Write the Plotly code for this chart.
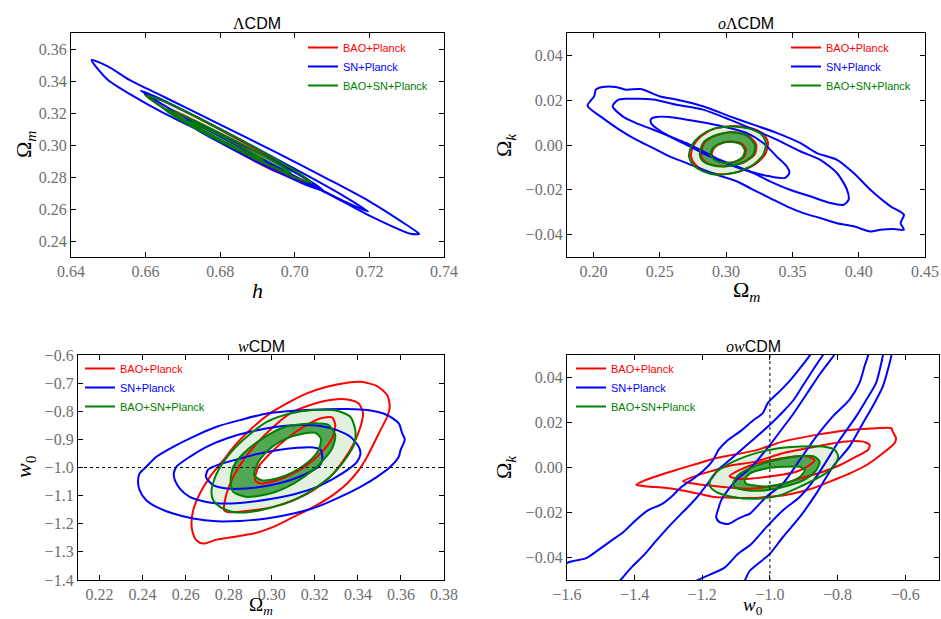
import plotly.graph_objects as go

# ---------------- colours ----------------
RED = "#ff0000"
BLUE = "#0000ff"
GREEN = "#008000"
LIGHT_GREEN = "#e2f1de"
DARK_GREEN = "#52a852"

SERIES_NAMES = ["BAO+Planck", "SN+Planck", "BAO+SN+Planck"]
PANEL_TITLES = ["ΛCDM", "<i>o</i>ΛCDM", "<i>w</i>CDM", "<i>ow</i>CDM"]

# ---------------- panel 1: LCDM (x = h, y = Omega_m) ----------------
LCDM_X_TICKS = [0.64, 0.66, 0.68, 0.70, 0.72, 0.74]
LCDM_Y_TICKS = [0.24, 0.26, 0.28, 0.30, 0.32, 0.34, 0.36]

LCDM_BAO_OUTER = [(0.6598,0.3316),(0.6643,0.3279),(0.6712,0.3202),(0.6825,0.3064),(0.6939,0.2917),(0.7007,0.2822),(0.7052,0.2745),(0.7007,0.2782),(0.6939,0.2859),(0.6825,0.2996),(0.6712,0.3144),(0.6643,0.3239)]
LCDM_BAO_MID = [(0.6663,0.3222),(0.6694,0.3195),(0.6741,0.3141),(0.6819,0.3042),(0.6896,0.2936),(0.6943,0.2868),(0.6974,0.2813),(0.6943,0.2840),(0.6896,0.2894),(0.6819,0.2994),(0.6741,0.3099),(0.6694,0.3167)]
LCDM_BAO_IN = [(0.6725,0.3140),(0.6744,0.3123),(0.6772,0.3091),(0.6818,0.3034),(0.6865,0.2974),(0.6892,0.2937),(0.6911,0.2906),(0.6892,0.2923),(0.6865,0.2954),(0.6818,0.3012),(0.6772,0.3071),(0.6744,0.3109)]

LCDM_SN_OUTER = [(0.6455,0.3532),(0.6500,0.3490),(0.6558,0.3405),(0.6650,0.3300),(0.6800,0.3127),(0.6950,0.2954),(0.7094,0.2781),(0.7200,0.2648),(0.7300,0.2500),(0.7334,0.2444),(0.7310,0.2445),(0.7200,0.2558),(0.7094,0.2690),(0.6950,0.2855),(0.6800,0.3028),(0.6650,0.3198),(0.6558,0.3318),(0.6500,0.3405),(0.6470,0.3480)]
LCDM_SN_MID = [(0.6587,0.3340),(0.6648,0.3279),(0.6740,0.3172),(0.6892,0.2986),(0.7045,0.2794),(0.7136,0.2674),(0.7197,0.2583),(0.7136,0.2644),(0.7045,0.2750),(0.6892,0.2936),(0.6740,0.3128),(0.6648,0.3249)]
LCDM_SN_IN = [(0.6703,0.3155),(0.6740,0.3129),(0.6796,0.3071),(0.6889,0.2966),(0.6982,0.2853),(0.7038,0.2779),(0.7075,0.2717),(0.7038,0.2743),(0.6982,0.2801),(0.6889,0.2906),(0.6796,0.3019),(0.6740,0.3093)]

LCDM_ALL_OUTER = [(0.6600,0.3310),(0.66445,0.3277),(0.67113,0.3204),(0.68225,0.3072),(0.69338,0.2931),(0.70005,0.2840),(0.7045,0.2765),(0.70005,0.2798),(0.69338,0.2871),(0.68225,0.3002),(0.67113,0.3144),(0.66445,0.3235)]
LCDM_ALL_MID = [(0.6650,0.3225),(0.6684,0.3201),(0.6735,0.3148),(0.6820,0.3051),(0.6905,0.2948),(0.6956,0.2881),(0.6990,0.2825),(0.6956,0.2849),(0.6905,0.2902),(0.6820,0.2999),(0.6735,0.3102),(0.6684,0.3169)]
LCDM_ALL_IN = [(0.6715,0.3150),(0.6735,0.3133),(0.6765,0.3099),(0.6815,0.3040),(0.6865,0.2976),(0.6895,0.2937),(0.6915,0.2905),(0.6895,0.2923),(0.6865,0.2956),(0.6815,0.3016),(0.6765,0.3079),(0.6735,0.3119)]

# ---------------- panel 2: oLCDM (x = Omega_m, y = Omega_k) ----------------
OLCDM_X_TICKS = [0.20, 0.25, 0.30, 0.35, 0.40, 0.45]
OLCDM_Y_TICKS = [-0.04, -0.02, 0.00, 0.02, 0.04]

OLCDM_BAO_OUTER = [(0.2735,-0.0050),(0.2752,-0.0004),(0.2816,0.0041),(0.2917,0.0074),(0.3068,0.0085),(0.3194,0.0074),(0.3283,0.0048),(0.3316,0.0011),(0.3295,-0.0041),(0.3220,-0.0086),(0.3093,-0.0120),(0.2942,-0.0131),(0.2841,-0.0116),(0.2765,-0.0086)]
OLCDM_BAO_MID = [(0.2811,-0.0042),(0.2836,0.0010),(0.2912,0.0040),(0.3038,0.0058),(0.3164,0.0043),(0.3227,0.0002),(0.3215,-0.0042),(0.3139,-0.0076),(0.3013,-0.0094),(0.2912,-0.0091),(0.2836,-0.0072)]
OLCDM_BAO_IN = [(0.2891,-0.0042),(0.2912,-0.0012),(0.2975,0.0010),(0.3063,0.0014),(0.3126,0.0002),(0.3151,-0.0023),(0.3134,-0.0053),(0.3076,-0.0073),(0.3000,-0.0079),(0.2932,-0.0069)]

OLCDM_SN_OUTER = [(0.1955,0.0176),(0.2005,0.0218),(0.2018,0.0247),(0.2068,0.0259),(0.2169,0.0259),(0.2245,0.0247),(0.2359,0.0250),(0.2497,0.0218),(0.2624,0.0203),(0.2826,0.0173),(0.3028,0.0128),(0.3205,0.0091),(0.3381,0.0054),(0.3558,0.0009),(0.3684,-0.0036),(0.3836,-0.0066),(0.3962,-0.0125),(0.4088,-0.0200),(0.4240,-0.0274),(0.4341,-0.0311),(0.4316,-0.0349),(0.4341,-0.0378),(0.4265,-0.0375),(0.4164,-0.0378),(0.4088,-0.0386),(0.3962,-0.0363),(0.3836,-0.0349),(0.3710,-0.0326),(0.3583,-0.0304),(0.3457,-0.0274),(0.3331,-0.0237),(0.3205,-0.0200),(0.3078,-0.0162),(0.2952,-0.0137),(0.2826,-0.0110),(0.2699,-0.0080),(0.2573,-0.0051),(0.2447,-0.0013),(0.2321,0.0024),(0.2194,0.0069),(0.2068,0.0121)]
OLCDM_SN_MID = [(0.2144,0.0173),(0.2182,0.0200),(0.2245,0.0206),(0.2447,0.0203),(0.2624,0.0180),(0.2826,0.0158),(0.3028,0.0113),(0.3205,0.0069),(0.3381,0.0024),(0.3558,-0.0028),(0.3710,-0.0066),(0.3836,-0.0125),(0.3912,-0.0200),(0.3924,-0.0244),(0.3886,-0.0267),(0.3785,-0.0259),(0.3634,-0.0229),(0.3482,-0.0200),(0.3331,-0.0162),(0.3205,-0.0125),(0.3078,-0.0095),(0.2952,-0.0066),(0.2826,-0.0028),(0.2699,0.0009),(0.2573,0.0039),(0.2447,0.0069),(0.2321,0.0098),(0.2220,0.0128)]
OLCDM_SN_IN = [(0.2434,0.0116),(0.2472,0.0125),(0.2573,0.0125),(0.2775,0.0106),(0.2977,0.0083),(0.3154,0.0054),(0.3280,0.0009),(0.3381,-0.0051),(0.3457,-0.0095),(0.3477,-0.0125),(0.3444,-0.0147),(0.3331,-0.0140),(0.3179,-0.0118),(0.3028,-0.0088),(0.2876,-0.0051),(0.2725,-0.0006),(0.2573,0.0039),(0.2472,0.0076),(0.2434,0.0098)]

OLCDM_ALL_OUTER = [(0.2720,-0.0051),(0.2737,-0.0006),(0.2801,0.0039),(0.2902,0.0072),(0.3053,0.0083),(0.3179,0.0072),(0.3268,0.0046),(0.3301,0.0009),(0.3280,-0.0043),(0.3205,-0.0088),(0.3078,-0.0122),(0.2927,-0.0133),(0.2826,-0.0118),(0.2750,-0.0088)]
OLCDM_ALL_MID = [(0.2801,-0.0043),(0.2826,0.0009),(0.2902,0.0039),(0.3028,0.0057),(0.3154,0.0042),(0.3217,0.0001),(0.3205,-0.0043),(0.3129,-0.0077),(0.3003,-0.0095),(0.2902,-0.0092),(0.2826,-0.0073)]
OLCDM_ALL_IN = [(0.2881,-0.0043),(0.2902,-0.0013),(0.2965,0.0009),(0.3053,0.0013),(0.3116,0.0001),(0.3141,-0.0024),(0.3124,-0.0054),(0.3066,-0.0074),(0.2990,-0.0080),(0.2922,-0.0070)]

# ---------------- panel 3: wCDM (x = Omega_m, y = w0) ----------------
WCDM_X_TICKS = [0.22, 0.24, 0.26, 0.28, 0.30, 0.32, 0.34, 0.36, 0.38]
WCDM_Y_TICKS = [-1.4, -1.3, -1.2, -1.1, -1.0, -0.9, -0.8, -0.7, -0.6]
WCDM_REF_W0 = -1.0

WCDM_BAO_OUTER = [(0.2627,-1.1994),(0.2635,-1.1519),(0.2666,-1.0926),(0.2713,-1.0332),(0.2775,-0.9739),(0.2837,-0.9145),(0.2915,-0.8552),(0.2992,-0.8077),(0.3070,-0.7721),(0.3163,-0.7365),(0.3256,-0.7128),(0.3350,-0.6985),(0.3412,-0.6950),(0.3489,-0.7104),(0.3536,-0.7424),(0.3548,-0.7840),(0.3536,-0.8196),(0.3505,-0.8671),(0.3474,-0.9145),(0.3443,-0.9620),(0.3404,-1.0095),(0.3350,-1.0570),(0.3272,-1.1045),(0.3194,-1.1401),(0.3101,-1.1757),(0.3008,-1.2113),(0.2915,-1.2350),(0.2821,-1.2469),(0.2744,-1.2564),(0.2682,-1.2706),(0.2650,-1.2587),(0.2632,-1.2291)]
WCDM_BAO_MID = [(0.2778,-1.1519),(0.2790,-1.0926),(0.2821,-1.0332),(0.2868,-0.9739),(0.2930,-0.9145),(0.3008,-0.8552),(0.3085,-0.8077),(0.3179,-0.7780),(0.3272,-0.7602),(0.3350,-0.7579),(0.3404,-0.7721),(0.3424,-0.8077),(0.3412,-0.8552),(0.3381,-0.9145),(0.3334,-0.9739),(0.3272,-1.0332),(0.3194,-1.0807),(0.3101,-1.1163),(0.3008,-1.1401),(0.2915,-1.1519),(0.2837,-1.1579),(0.2790,-1.1579)]
WCDM_BAO_IN = [(0.2922,-1.0451),(0.2938,-0.9976),(0.2992,-0.9501),(0.3070,-0.8967),(0.3148,-0.8552),(0.3225,-0.8255),(0.3280,-0.8220),(0.3295,-0.8493),(0.3280,-0.8967),(0.3233,-0.9442),(0.3163,-0.9917),(0.3085,-1.0273),(0.3000,-1.0510),(0.2946,-1.0570)]

WCDM_SN_OUTER = [(0.2379,-1.0451),(0.2386,-1.0214),(0.2417,-0.9976),(0.2464,-0.9620),(0.2542,-0.9264),(0.2635,-0.8908),(0.2744,-0.8552),(0.2852,-0.8315),(0.2977,-0.8077),(0.3101,-0.7982),(0.3225,-0.7935),(0.3350,-0.7923),(0.3443,-0.7958),(0.3536,-0.8136),(0.3590,-0.8433),(0.3606,-0.8789),(0.3618,-0.9003),(0.3598,-0.9383),(0.3590,-0.9620),(0.3551,-0.9976),(0.3489,-1.0332),(0.3412,-1.0688),(0.3318,-1.1045),(0.3210,-1.1401),(0.3101,-1.1638),(0.2977,-1.1816),(0.2852,-1.1899),(0.2744,-1.1911),(0.2635,-1.1816),(0.2542,-1.1638),(0.2464,-1.1401),(0.2417,-1.1163),(0.2386,-1.0807)]
WCDM_SN_MID = [(0.2545,-1.0214),(0.2557,-0.9976),(0.2619,-0.9620),(0.2697,-0.9264),(0.2790,-0.8967),(0.2899,-0.8730),(0.3023,-0.8552),(0.3132,-0.8493),(0.3225,-0.8528),(0.3303,-0.8671),(0.3365,-0.8908),(0.3404,-0.9264),(0.3412,-0.9501),(0.3396,-0.9798),(0.3350,-1.0095),(0.3287,-1.0392),(0.3210,-1.0688),(0.3117,-1.0926),(0.3008,-1.1104),(0.2899,-1.1223),(0.2790,-1.1282),(0.2697,-1.1223),(0.2619,-1.1045),(0.2573,-1.0748),(0.2550,-1.0451)]
WCDM_SN_IN = [(0.2694,-1.0332),(0.2705,-1.0071),(0.2759,-0.9881),(0.2837,-0.9715),(0.2930,-0.9525),(0.3023,-0.9383),(0.3117,-0.9300),(0.3194,-0.9288),(0.3228,-0.9383),(0.3235,-0.9739),(0.3217,-0.9976),(0.3163,-1.0214),(0.3085,-1.0451),(0.2992,-1.0629),(0.2883,-1.0748),(0.2790,-1.0748),(0.2728,-1.0629)]

WCDM_ALL_OUTER = [(0.2720,-1.0807),(0.2744,-1.0214),(0.2806,-0.9501),(0.2884,-0.8908),(0.2977,-0.8374),(0.3085,-0.8077),(0.3194,-0.7958),(0.3303,-0.7982),(0.3365,-0.8196),(0.3388,-0.8671),(0.3384,-0.9145),(0.3350,-0.9620),(0.3287,-1.0214),(0.3210,-1.0688),(0.3117,-1.1104),(0.3008,-1.1401),(0.2899,-1.1579),(0.2821,-1.1579),(0.2759,-1.1401),(0.2728,-1.1163)]
WCDM_ALL_MID = [(0.2809,-1.0451),(0.2821,-0.9976),(0.2868,-0.9501),(0.2946,-0.9027),(0.3054,-0.8576),(0.3179,-0.8433),(0.3264,-0.8493),(0.3295,-0.8849),(0.3280,-0.9323),(0.3210,-0.9976),(0.3101,-1.0570),(0.2992,-1.0926),(0.2884,-1.1045),(0.2821,-1.0866)]
WCDM_ALL_IN = [(0.2918,-1.0273),(0.2938,-0.9798),(0.2992,-0.9323),(0.3070,-0.8967),(0.3148,-0.8789),(0.3202,-0.8766),(0.3228,-0.8967),(0.3217,-0.9383),(0.3171,-0.9798),(0.3101,-1.0154),(0.3023,-1.0392),(0.2953,-1.0451)]

# ---------------- panel 4: owCDM (x = w0, y = Omega_k) ----------------
OWCDM_X_TICKS = [-1.6, -1.4, -1.2, -1.0, -0.8, -0.6]
OWCDM_Y_TICKS = [-0.04, -0.02, 0.00, 0.02, 0.04]
OWCDM_REF_W0 = -1.0

OWCDM_BAO_OUTER = [(-1.395,-0.0077),(-1.370,-0.0057),(-1.311,-0.0027),(-1.262,-0.0004),(-1.213,0.0018),(-1.164,0.0040),(-1.114,0.0055),(-1.045,0.0075),(-0.962,0.0115),(-0.863,0.0145),(-0.765,0.0167),(-0.686,0.0175),(-0.641,0.0175),(-0.637,0.0160),(-0.627,0.0130),(-0.632,0.0107),(-0.666,0.0063),(-0.715,0.0010),(-0.765,-0.0027),(-0.814,-0.0057),(-0.863,-0.0087),(-0.912,-0.0109),(-0.962,-0.0124),(-1.011,-0.0131),(-1.060,-0.0136),(-1.114,-0.0134),(-1.164,-0.0131),(-1.213,-0.0116),(-1.262,-0.0101),(-1.311,-0.0090),(-1.361,-0.0084)]
OWCDM_BAO_MID = [(-1.257,-0.0062),(-1.213,-0.0034),(-1.164,-0.0012),(-1.114,0.0010),(-1.045,0.0025),(-0.962,0.0063),(-0.863,0.0093),(-0.784,0.0115),(-0.725,0.0115),(-0.705,0.0100),(-0.710,0.0078),(-0.745,0.0048),(-0.794,0.0010),(-0.843,-0.0019),(-0.912,-0.0049),(-0.962,-0.0072),(-1.011,-0.0087),(-1.060,-0.0094),(-1.114,-0.0090),(-1.164,-0.0082),(-1.213,-0.0074)]
OWCDM_BAO_IN = [(-1.119,-0.0038),(-1.060,0.0008),(-1.001,0.0031),(-0.942,0.0046),(-0.893,0.0050),(-0.868,0.0033),(-0.883,0.0010),(-0.922,-0.0019),(-0.981,-0.0036),(-1.060,-0.0050),(-1.095,-0.0050)]

# SN contours are open bands that run out of the frame
OWCDM_SN_OUTER_LEFT = [(-1.650,-0.0470),(-1.597,-0.0422),(-1.543,-0.0403),(-1.508,-0.0367),(-1.469,-0.0325),(-1.434,-0.0288),(-1.400,-0.0239),(-1.361,-0.0191),(-1.321,-0.0164),(-1.292,-0.0131),(-1.262,-0.0087),(-1.223,-0.0046),(-1.193,-0.0009),(-1.168,0.0033),(-1.152,0.0078),(-1.124,0.0122),(-1.085,0.0164),(-1.050,0.0209),(-1.021,0.0242),(-1.006,0.0287),(-0.971,0.0339),(-0.947,0.0376),(-0.922,0.0421),(-0.898,0.0466),(-0.883,0.0496),(-0.868,0.0530)]
OWCDM_SN_OUTER_RIGHT = [(-0.638,0.0525),(-0.641,0.0496),(-0.651,0.0436),(-0.666,0.0361),(-0.696,0.0272),(-0.725,0.0197),(-0.765,0.0093),(-0.814,0.0003),(-0.863,-0.0116),(-0.912,-0.0221),(-0.962,-0.0310),(-1.001,-0.0385),(-1.060,-0.0460),(-1.075,-0.0504),(-1.085,-0.0530)]
OWCDM_SN_MID_LEFT = [(-1.460,-0.0530),(-1.444,-0.0504),(-1.410,-0.0445),(-1.370,-0.0385),(-1.336,-0.0325),(-1.301,-0.0266),(-1.267,-0.0213),(-1.233,-0.0161),(-1.203,-0.0109),(-1.173,-0.0049),(-1.149,-0.0004),(-1.119,0.0033),(-1.085,0.0078),(-1.045,0.0130),(-1.000,0.0190),(-0.960,0.0250),(-0.930,0.0300),(-0.900,0.0370),(-0.870,0.0440),(-0.843,0.0500),(-0.830,0.0530)]
OWCDM_SN_MID_RIGHT = [(-0.662,0.0525),(-0.666,0.0496),(-0.686,0.0376),(-0.715,0.0301),(-0.745,0.0227),(-0.794,0.0122),(-0.863,-0.0042),(-0.912,-0.0131),(-0.962,-0.0191),(-1.011,-0.0266),(-1.055,-0.0340),(-1.095,-0.0385),(-1.134,-0.0445),(-1.218,-0.0504),(-1.235,-0.0530)]
OWCDM_SN_IN = [(-0.800,0.0530),(-0.810,0.0500),(-0.850,0.0420),(-0.890,0.0330),(-0.930,0.0240),(-0.960,0.0180),(-1.000,0.0100),(-1.045,0.0018),(-1.065,-0.0012),(-1.095,-0.0049),(-1.124,-0.0101),(-1.144,-0.0146),(-1.154,-0.0191),(-1.159,-0.0221),(-1.149,-0.0243),(-1.124,-0.0251),(-1.095,-0.0228),(-1.075,-0.0215),(-1.060,-0.0206),(-1.011,-0.0131),(-0.962,-0.0072),(-0.912,0.0033),(-0.863,0.0137),(-0.814,0.0227),(-0.765,0.0301),(-0.735,0.0376),(-0.720,0.0451),(-0.710,0.0496),(-0.706,0.0525)]

OWCDM_ALL_OUTER = [(-1.178,-0.0064),(-1.163,-0.0027),(-1.119,0.0018),(-1.060,0.0055),(-0.991,0.0081),(-0.912,0.0093),(-0.843,0.0093),(-0.808,0.0078),(-0.798,0.0048),(-0.808,0.0010),(-0.843,-0.0034),(-0.902,-0.0079),(-0.971,-0.0124),(-1.040,-0.0139),(-1.109,-0.0131),(-1.158,-0.0109),(-1.176,-0.0087)]
OWCDM_ALL_MID = [(-1.109,-0.0072),(-1.094,-0.0034),(-1.050,0.0003),(-0.981,0.0033),(-0.912,0.0051),(-0.868,0.0048),(-0.853,0.0025),(-0.863,-0.0012),(-0.892,-0.0049),(-0.942,-0.0079),(-1.011,-0.0101),(-1.070,-0.0101),(-1.104,-0.0087)]
OWCDM_ALL_IN = [(-1.075,-0.0057),(-1.060,-0.0027),(-1.011,-0.0004),(-0.962,0.0003),(-0.912,0.0003),(-0.897,-0.0012),(-0.912,-0.0042),(-0.952,-0.0069),(-1.011,-0.0084),(-1.050,-0.0079),(-1.070,-0.0072)]

# ---------------- layout geometry (paper fractions) ----------------
W, H = 941, 619

def px_x(p):
    return p / W

def px_y(p):
    return 1 - p / H

PANELS = [
    dict(xd=[px_x(71), px_x(444)], yd=[px_y(257), px_y(33)], xr=[0.64, 0.74], yr=[0.23, 0.37],
         xt=LCDM_X_TICKS, yt=LCDM_Y_TICKS, xf=".2f", yf=".2f"),
    dict(xd=[px_x(567), px_x(925)], yd=[px_y(257), px_y(33)], xr=[0.18, 0.45], yr=[-0.05, 0.05],
         xt=OLCDM_X_TICKS, yt=OLCDM_Y_TICKS, xf=".2f", yf=".2f"),
    dict(xd=[px_x(78), px_x(444)], yd=[px_y(580), px_y(355)], xr=[0.21, 0.38], yr=[-1.4, -0.6],
         xt=WCDM_X_TICKS, yt=WCDM_Y_TICKS, xf=".2f", yf=".1f"),
    dict(xd=[px_x(567), px_x(939)], yd=[px_y(580), px_y(355)], xr=[-1.6, -0.5], yr=[-0.05, 0.05],
         xt=OWCDM_X_TICKS, yt=OWCDM_Y_TICKS, xf=".1f", yf=".2f"),
]

fig = go.Figure()


def xy(pts, close=True):
    xs = [p[0] for p in pts]
    ys = [p[1] for p in pts]
    if close:
        xs.append(pts[0][0])
        ys.append(pts[0][1])
    return xs, ys


def add_fill(pts, color, ax):
    xs, ys = xy(pts)
    fig.add_trace(go.Scatter(x=xs, y=ys, mode="lines", fill="toself", fillcolor=color,
                             line=dict(width=0, shape="spline", smoothing=0.7),
                             xaxis="x" + ax, yaxis="y" + ax, showlegend=False, hoverinfo="skip"))


def add_line(pts, color, ax, close=True, legend=None, name=None):
    xs, ys = xy(pts, close)
    fig.add_trace(go.Scatter(x=xs, y=ys, mode="lines",
                             line=dict(color=color, width=2, shape="spline", smoothing=0.7),
                             xaxis="x" + ax, yaxis="y" + ax,
                             showlegend=legend is not None,
                             legend=legend if legend else "legend",
                             name=name if name else " ", hoverinfo="skip"))


def legend_name(text, color):
    return f"<span style='color:{color}'>{text}</span>"


def add_panel(ax, legend, bao, sn, sn_open, allc):
    add_fill(allc[0], LIGHT_GREEN, ax)
    add_fill(allc[1], DARK_GREEN, ax)
    add_fill(allc[2], "#ffffff", ax)
    for i, c in enumerate(bao):
        add_line(c, RED, ax, legend=legend if i == 0 else None,
                 name=legend_name(SERIES_NAMES[0], RED))
    for i, c in enumerate(sn):
        add_line(c, BLUE, ax, close=not sn_open, legend=legend if i == 0 else None,
                 name=legend_name(SERIES_NAMES[1], BLUE))
    for i, c in enumerate(allc):
        add_line(c, GREEN, ax, legend=legend if i == 0 else None,
                 name=legend_name(SERIES_NAMES[2], GREEN))


add_panel("", "legend",
          [LCDM_BAO_OUTER, LCDM_BAO_MID, LCDM_BAO_IN],
          [LCDM_SN_OUTER, LCDM_SN_MID, LCDM_SN_IN], False,
          [LCDM_ALL_OUTER, LCDM_ALL_MID, LCDM_ALL_IN])
add_panel("2", "legend2",
          [OLCDM_BAO_OUTER, OLCDM_BAO_MID, OLCDM_BAO_IN],
          [OLCDM_SN_OUTER, OLCDM_SN_MID, OLCDM_SN_IN], False,
          [OLCDM_ALL_OUTER, OLCDM_ALL_MID, OLCDM_ALL_IN])
add_panel("3", "legend3",
          [WCDM_BAO_OUTER, WCDM_BAO_MID, WCDM_BAO_IN],
          [WCDM_SN_OUTER, WCDM_SN_MID, WCDM_SN_IN], False,
          [WCDM_ALL_OUTER, WCDM_ALL_MID, WCDM_ALL_IN])
add_panel("4", "legend4",
          [OWCDM_BAO_OUTER, OWCDM_BAO_MID, OWCDM_BAO_IN],
          [OWCDM_SN_OUTER_LEFT, OWCDM_SN_OUTER_RIGHT, OWCDM_SN_MID_LEFT, OWCDM_SN_MID_RIGHT, OWCDM_SN_IN], True,
          [OWCDM_ALL_OUTER, OWCDM_ALL_MID, OWCDM_ALL_IN])

fig.add_trace(go.Scatter(x=[0.21, 0.38], y=[WCDM_REF_W0, WCDM_REF_W0], mode="lines",
                         line=dict(color="black", width=1, dash="dot"),
                         xaxis="x3", yaxis="y3", showlegend=False, hoverinfo="skip"))
fig.add_trace(go.Scatter(x=[OWCDM_REF_W0, OWCDM_REF_W0], y=[-0.05, 0.05], mode="lines",
                         line=dict(color="black", width=1, dash="dot"),
                         xaxis="x4", yaxis="y4", showlegend=False, hoverinfo="skip"))

SERIF = "Liberation Serif"
TICKFONT = dict(family=SERIF, size=16, color="#6e6e6e")
layout = dict(width=W, height=H, margin=dict(l=0, r=0, t=0, b=0, autoexpand=False),
              paper_bgcolor="white", plot_bgcolor="white", showlegend=True)

for i, p in enumerate(PANELS):
    s = "" if i == 0 else str(i + 1)
    common = dict(showline=True, linecolor="black", linewidth=1.3, mirror="allticks",
                  ticks="inside", ticklen=5, tickwidth=1, tickcolor="black",
                  showgrid=False, zeroline=False, tickfont=TICKFONT, automargin=False)
    layout["xaxis" + s] = dict(domain=p["xd"], range=p["xr"], tickvals=p["xt"],
                               tickformat=p["xf"], anchor="y" + s, **common)
    layout["yaxis" + s] = dict(domain=p["yd"], range=p["yr"], tickvals=p["yt"],
                               tickformat=p["yf"], anchor="x" + s, **common)

LEG = dict(font=dict(family="Liberation Sans", size=11), bgcolor="rgba(0,0,0,0)",
           itemwidth=30, xanchor="left", yanchor="top", tracegroupgap=0)
layout["legend"] = dict(x=px_x(303), y=px_y(33), **LEG)
layout["legend2"] = dict(x=px_x(786), y=px_y(33), **LEG)
layout["legend3"] = dict(x=px_x(80), y=px_y(354), **LEG)
layout["legend4"] = dict(x=px_x(571), y=px_y(354), **LEG)

TITLE_FONT = dict(family="Liberation Sans", size=16, color="black")
LABEL_FONT = dict(family=SERIF, size=22, color="black")
LABEL_FONT_LOW = dict(family=SERIF, size=19, color="black")


def ann(text, x, y, font, angle=0):
    return dict(text=text, x=px_x(x), y=px_y(y), xref="paper", yref="paper",
                showarrow=False, xanchor="center", yanchor="middle", font=font, textangle=angle)


def title_text(t):
    return t.replace("Λ", f"<span style='font-family:{SERIF}'>Λ</span>") \
            .replace("<i>", f"<span style='font-family:{SERIF}'><i>").replace("</i>", "</i></span>")


OMEGA_M = "Ω<sub><i>m</i></sub>"
OMEGA_K = "Ω<sub><i>k</i></sub>"
W0 = "<i>w</i><sub>0</sub>"

layout["annotations"] = [
    ann(title_text(PANEL_TITLES[0]), 257, 24, TITLE_FONT),
    ann(title_text(PANEL_TITLES[1]), 746, 24, TITLE_FONT),
    ann(title_text(PANEL_TITLES[2]), 261, 347, TITLE_FONT),
    ann(title_text(PANEL_TITLES[3]), 753, 347, TITLE_FONT),
    ann("<i>h</i>", 257, 290, LABEL_FONT),
    ann(OMEGA_M, 746, 291, LABEL_FONT),
    ann(OMEGA_M, 261, 606, LABEL_FONT_LOW),
    ann(W0, 753, 606, LABEL_FONT_LOW),
    ann(OMEGA_M, 25, 145, LABEL_FONT, -90),
    ann(OMEGA_K, 505, 145, LABEL_FONT, -90),
    ann(W0, 25, 467, LABEL_FONT, -90),
    ann(OMEGA_K, 505, 467, LABEL_FONT, -90),
]

fig.update_layout(**layout)
fig.write_html("out.html", config={"displayModeBar": False},
               post_script="document.body.style.margin='0px';document.body.style.overflow='hidden';")
